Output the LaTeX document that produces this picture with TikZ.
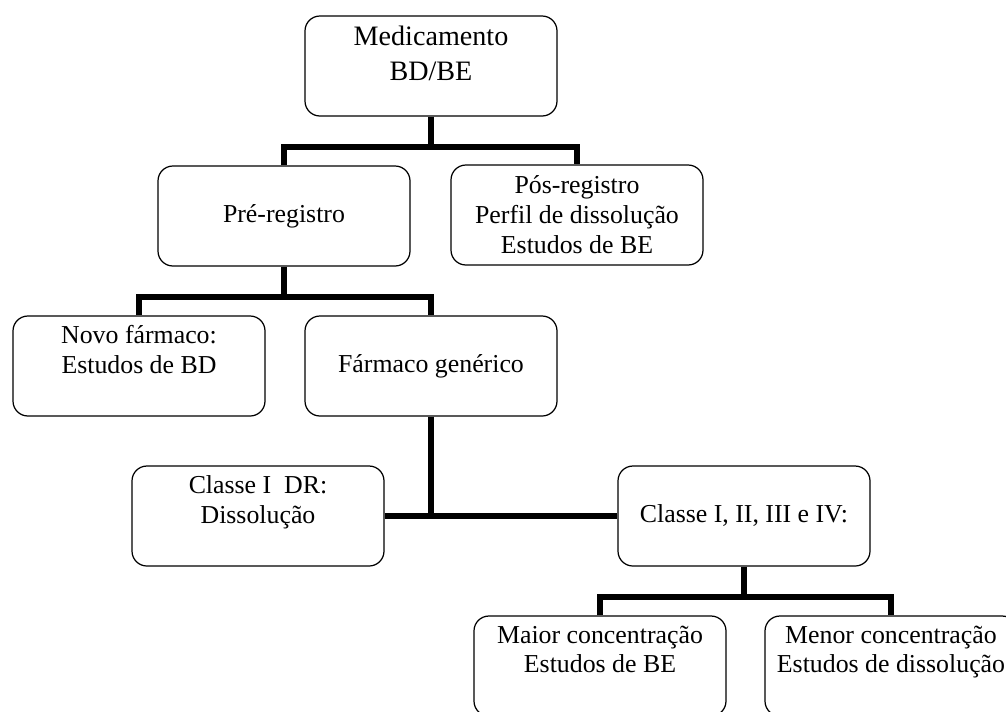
\documentclass[tikz,border=0pt]{standalone}
\usepackage{fontspec}
\setmainfont{Liberation Serif}
\usetikzlibrary{positioning}
\tikzset{
    % Box styles
    box/.style={rectangle, draw, rounded corners=8.5pt, minimum width=5.04cm,
                minimum height=2cm, inner ysep=1pt, align=center, line width=0.7pt,
                font=\fontsize{14.7}{17}\selectfont},
    two lines/.style={text depth=19pt},
    % Connector style
    link/.style={line width=3.1pt},
}

\begin{document}
\begin{tikzpicture}
    \clip (0, 0) rectangle (20.12, -14.22);

    % Top
    \node[box, font=\fontsize{16}{19.5}\selectfont, text depth=14.5pt] (med) at (8.62, -1.32) {Medicamento\\BD/BE};

    % Registro
    \node[box] (pre) at (5.68, -4.32) {Pré-registro};
    \node[box] (pos) at (11.54, -4.30) {Pós-registro\\Perfil de dissolução\\Estudos de BE};

    % Fármacos
    \node[box, two lines] (novo) at (2.78, -7.32) {Novo fármaco:\\Estudos de BD};
    \node[box] (gen) at (8.62, -7.32) {Fármaco genérico};

    % Classes
    \node[box, two lines] (dr) at (5.16, -10.32) {Classe I\ \ DR:\\Dissolução};
    \node[box] (cls) at (14.88, -10.32) {Classe I, II, III e IV:};

    % Concentrações
    \node[box, two lines] (maior) at (12.0, -13.32) {Maior concentração\\Estudos de BE};
    \node[box, two lines] (menor) at (17.82, -13.32) {Menor concentração\\Estudos de dissolução};

    % Junctions
    \coordinate (j1) at (8.62, -2.94);
    \coordinate (j2) at (5.68, -5.94);
    \coordinate (j3) at (8.62, -10.32);
    \coordinate (j4) at (14.88, -11.94);

    % Connectors
    \draw[link] (med.south) -- (j1);
    \draw[link] (pre.north) |- (j1) -| (pos.north);
    \draw[link] (pre.south) -- (j2);
    \draw[link] (novo.north) |- (j2) -| (gen.north);
    \draw[link] (gen.south) -- (j3);
    \draw[link] (dr.east) -- (cls.west);
    \draw[link] (cls.south) -- (j4);
    \draw[link] (maior.north) |- (j4) -| (menor.north);
\end{tikzpicture}
\end{document}
